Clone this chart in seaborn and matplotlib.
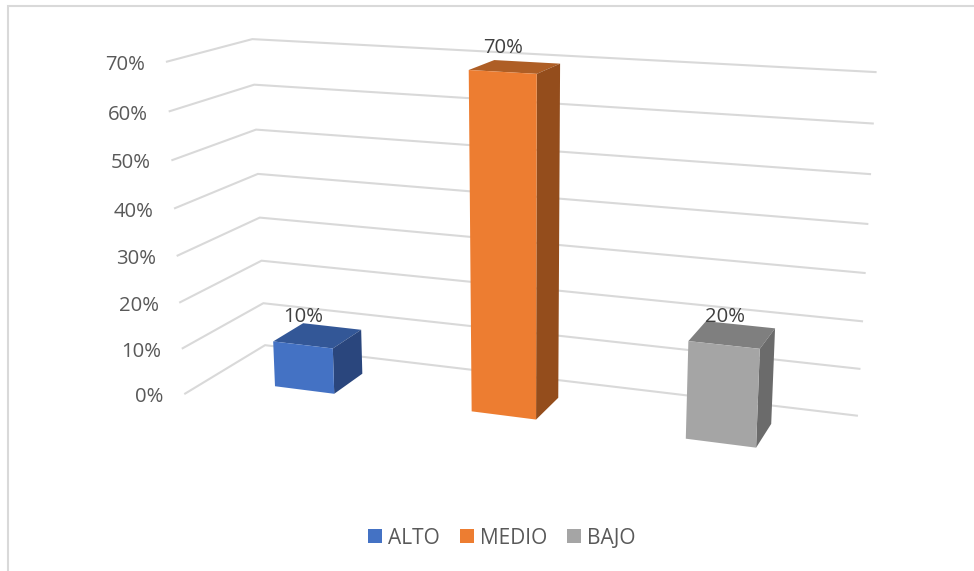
import numpy as np
import pandas as pd
import matplotlib
matplotlib.use("Agg")
import matplotlib.pyplot as plt
from matplotlib.patches import Polygon
from matplotlib.transforms import Transform, IdentityTransform
import seaborn as sns

# --- data ---
categories = ["ALTO", "MEDIO", "BAJO"]
values = [0.10, 0.70, 0.20]
tick_values = [0.0, 0.1, 0.2, 0.3, 0.4, 0.5, 0.6, 0.7]

# --- colours ---
front_colors = ["#4472C4", "#ED7D31", "#A5A5A5"]
top_colors = ["#335797", "#AE5E25", "#7F7F7F"]
side_colors = ["#2A467D", "#944D1C", "#6B6B6B"]
GRID = "#D9D9D9"

# --- scene: projective camera (x, value, depth) -> image pixels ---
CAMERA = np.array([
    [168.2401, -35.8799, -97.7352, 354.3057],
    [7.8959, -448.3583, 16.9552, 355.8012],
    [-0.038708, -0.068431, -0.083567, 1.0],
])
W, H = 974, 571
X_MIN, X_MAX = -0.5, 2.5
BAR_WIDTH = 0.31
DEPTH_FRONT, DEPTH_BACK = 0.69, 0.30
LABEL_OFFSETS = [(0, -8.5), (8.5, -15), (19, -7)]


def project(x, v, d):
    """Data coordinates to display pixels (y up)."""
    x, v = np.asarray(x, float), np.asarray(v, float)
    d = np.full_like(x, d, dtype=float) if np.ndim(d) == 0 else np.asarray(d, float)
    pts = np.stack([x, v, d, np.ones_like(x)], axis=-1)
    h = pts @ CAMERA.T
    return np.stack([h[..., 0] / h[..., 2], H - h[..., 1] / h[..., 2]], axis=-1)


class DepthPlane(Transform):
    """Maps the (category, value) plane at a given depth to the display."""
    input_dims = output_dims = 2
    is_separable = False
    has_inverse = False

    def __init__(self, plane_depth):
        super().__init__()
        self.plane_depth = plane_depth

    def transform_non_affine(self, values):
        values = np.asarray(values, float)
        return project(values[:, 0], values[:, 1], self.plane_depth)


sns.set_theme(style="white")
plt.rcParams["font.family"] = ["Open Sans", "DejaVu Sans"]

fig = plt.figure(figsize=(W / 100, H / 100), dpi=100, facecolor="white")
ax = fig.add_axes([0, 0, 1, 1])

df = pd.DataFrame({"nivel": categories, "valor": values})
sns.barplot(data=df, x="nivel", y="valor", hue="nivel", palette=front_colors,
            width=BAR_WIDTH, saturation=1, linewidth=0, legend=False, ax=ax, zorder=5)

bars = list(ax.patches)
ax.set_axis_off()
ax.set_xlim(X_MIN, X_MAX)
ax.set_ylim(0, 0.8)

ax.legend(bars, categories, ncols=3, loc="center", bbox_to_anchor=(502 / W, 1 - 538 / H),
          frameon=False, fontsize=15, labelcolor="#595959", handlelength=0.67,
          handleheight=0.67, handletextpad=0.29, columnspacing=0.96, borderpad=0, borderaxespad=0)

# gridlines and value labels
px = IdentityTransform()
for v in tick_values:
    pts = np.vstack([project(X_MIN, v, 1.0), project(X_MIN, v, 0.0), project(X_MAX, v, 0.0)])
    ax.plot(pts[:, 0], pts[:, 1], color=GRID, lw=1.5, transform=px, zorder=1,
            solid_capstyle="butt", solid_joinstyle="miter", clip_on=False)
    xy = project(X_MIN, v, 1.0)
    ax.text(xy[0] - 20.5, xy[1] - 0.5, f"{v:.0%}", transform=px, ha="right", va="center_baseline",
            fontsize=14.6, color="#595959")

# 3D bars: seaborn's rectangles become the front faces
for i, bar in enumerate(bars):
    x0, x1 = bar.get_x(), bar.get_x() + bar.get_width()
    v = bar.get_height()
    bar.set_transform(DepthPlane(DEPTH_FRONT))
    bar.set_clip_on(False)
    top = project(np.array([x0, x1, x1, x0]), np.full(4, v),
                  np.array([DEPTH_FRONT, DEPTH_FRONT, DEPTH_BACK, DEPTH_BACK]))
    side = project(np.full(4, x1), np.array([0, v, v, 0]),
                   np.array([DEPTH_FRONT, DEPTH_FRONT, DEPTH_BACK, DEPTH_BACK]))
    ax.add_patch(Polygon(top, closed=True, transform=px, facecolor=top_colors[i],
                         edgecolor="none", zorder=4, clip_on=False))
    ax.add_patch(Polygon(side, closed=True, transform=px, facecolor=side_colors[i],
                         edgecolor="none", zorder=4, clip_on=False))
    anchor = project(x0, v, DEPTH_BACK)
    dx, dy = LABEL_OFFSETS[i]
    ax.text(anchor[0] + dx, anchor[1] - dy, f"{v:.0%}", transform=px, ha="center",
            va="center_baseline", fontsize=14.6, color="#404040", zorder=6)

# chart-area frame, cropped by the picture on the right and at the bottom
ax.plot([W, 7.5, 7.5], [H - 5.5, H - 5.5, 0], color=GRID, lw=1.5, transform=px,
        solid_joinstyle="miter", clip_on=False, zorder=1)

fig.savefig("out.png", dpi=100, facecolor="white")
